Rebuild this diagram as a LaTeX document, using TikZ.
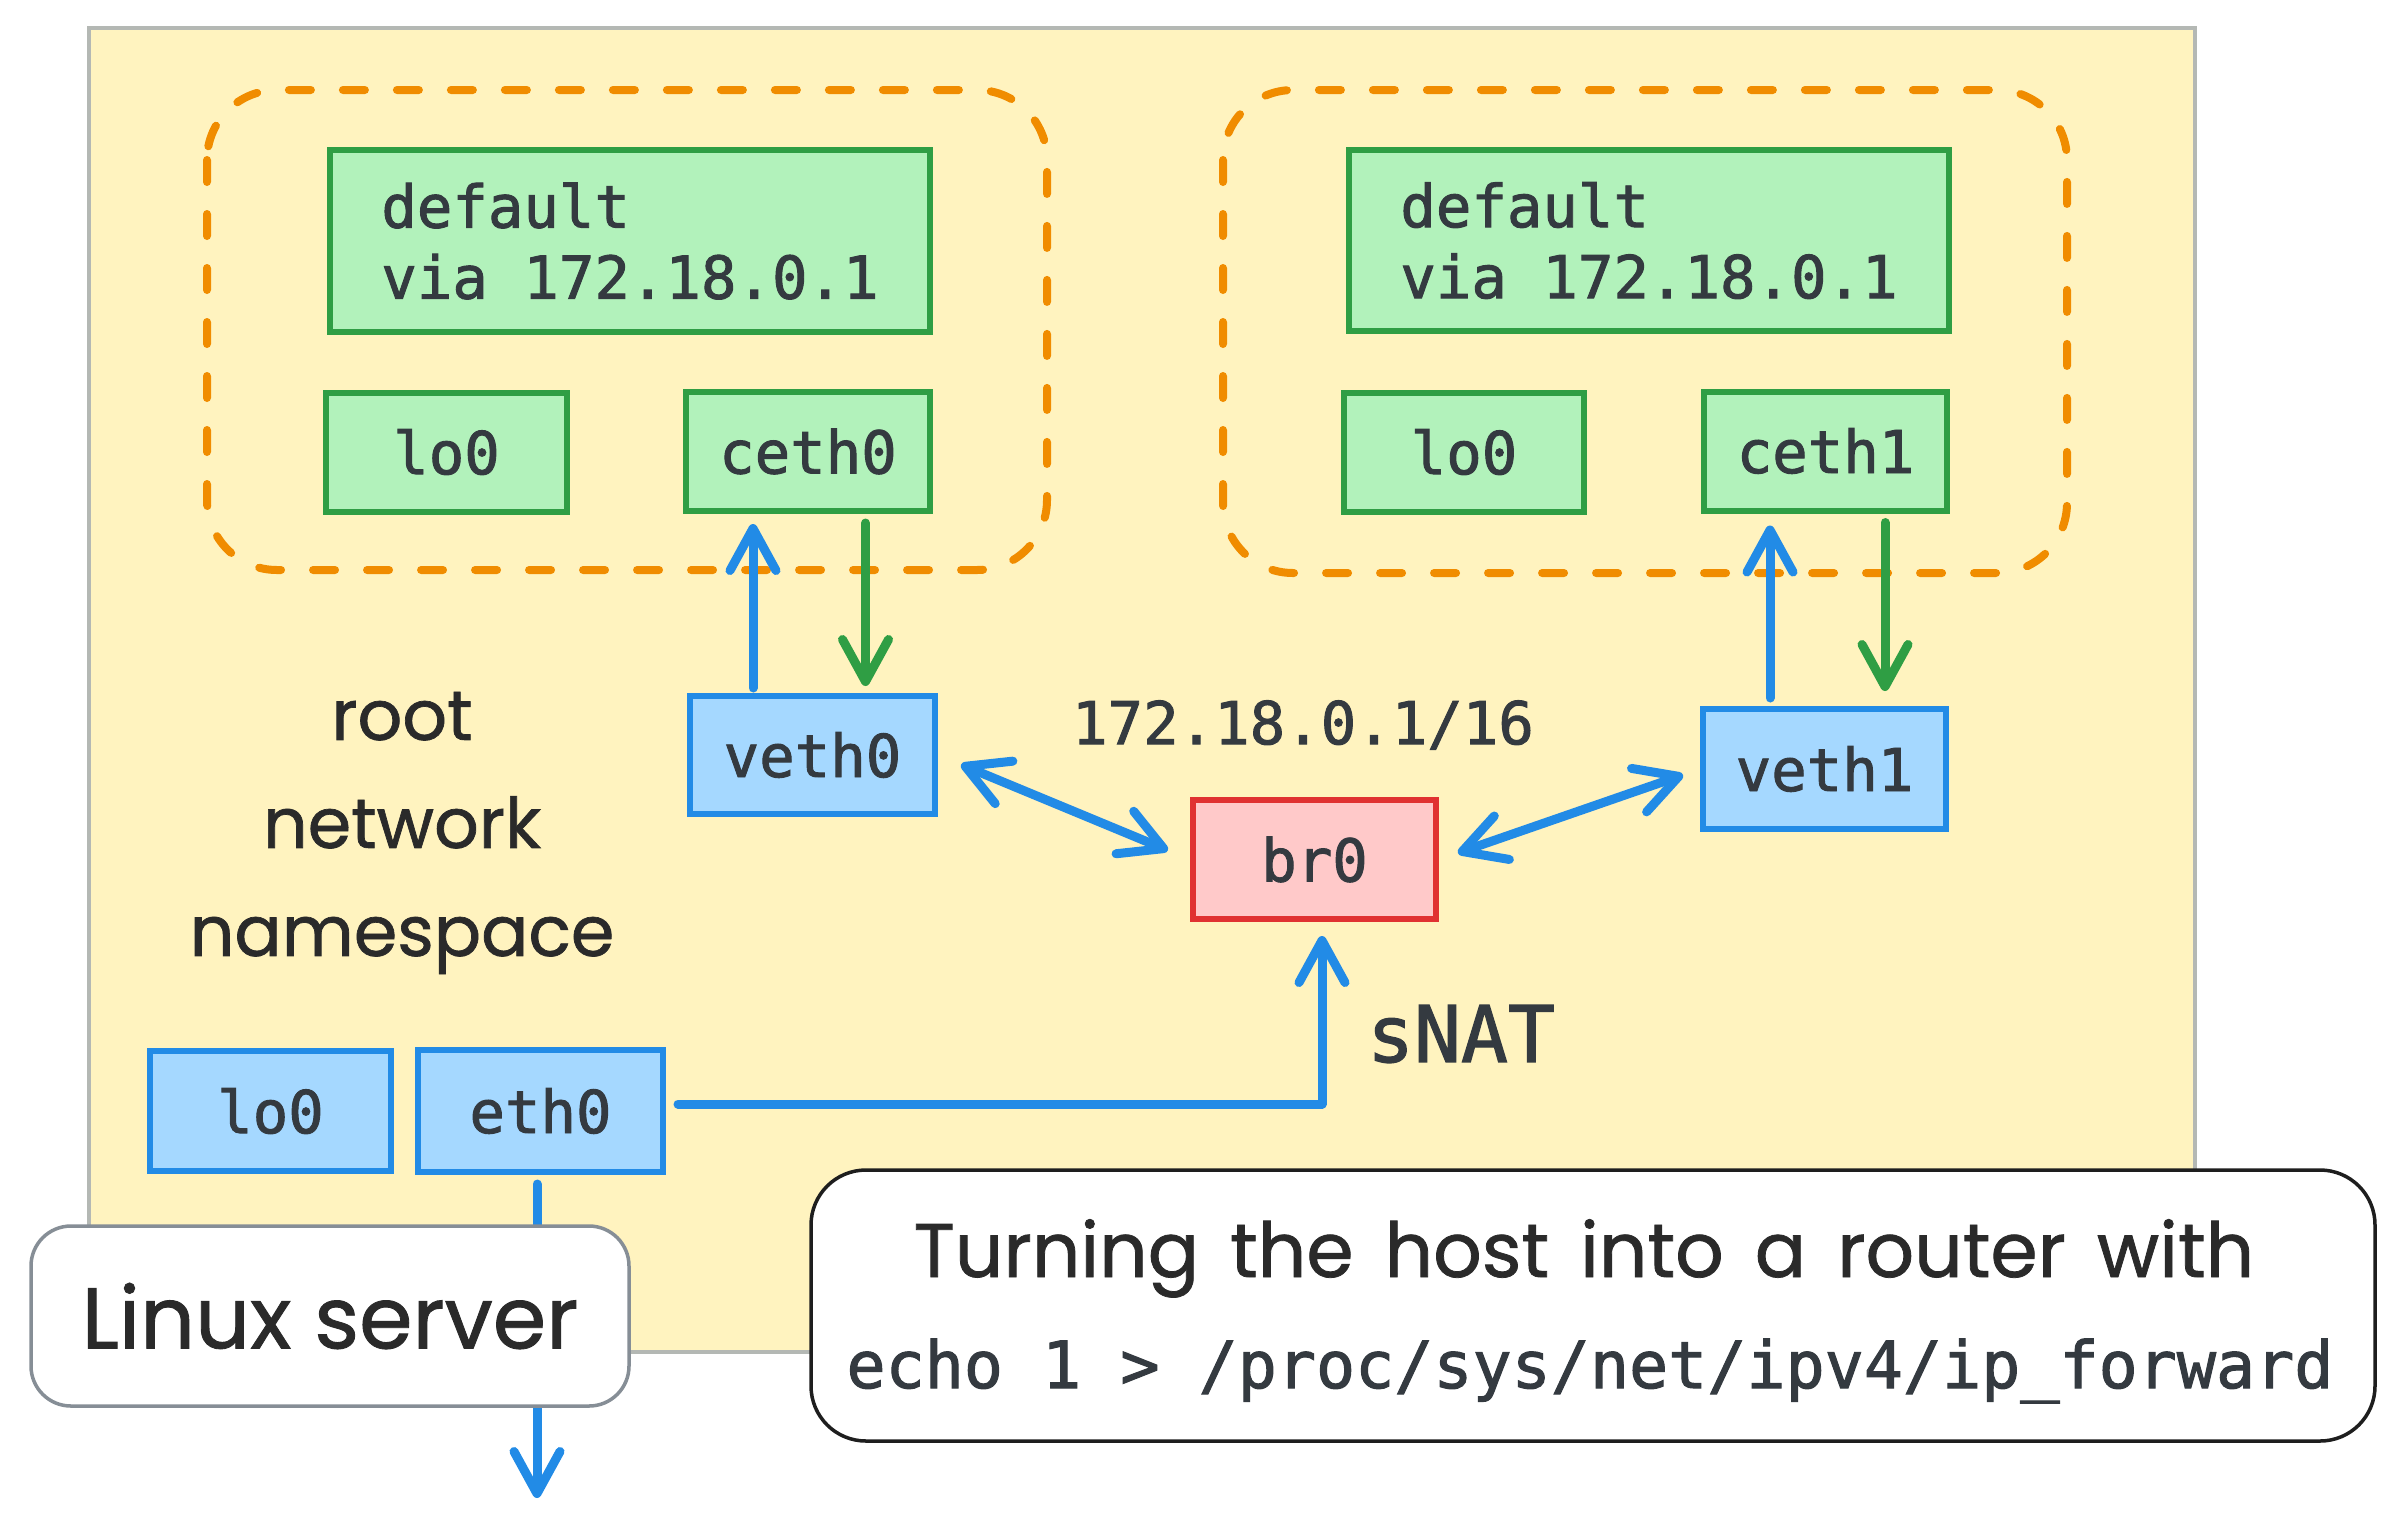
\documentclass[tikz,border=0pt]{standalone}
\usepackage{fontspec}
\newfontfamily\monof{DejaVu Sans Mono}[FakeBold=1.6]
\newfontfamily\handf{Poppins}[FakeBold=1]
\usetikzlibrary{arrows.meta,calc}
\definecolor{ybg}{HTML}{FFF3BF}
\definecolor{ygray}{HTML}{B4B8B4}
\definecolor{gfill}{HTML}{B2F2BB}
\definecolor{gstroke}{HTML}{2F9E44}
\definecolor{bfill}{HTML}{A5D8FF}
\definecolor{bstroke}{HTML}{228BE6}
\definecolor{rfill}{HTML}{FFC9C9}
\definecolor{rstroke}{HTML}{E03131}
\definecolor{orng}{HTML}{F08C00}
\definecolor{ink}{HTML}{343A40}
\definecolor{hink}{HTML}{2A2A2A}
\definecolor{srvgray}{HTML}{868E96}
\definecolor{notek}{HTML}{1E1E1E}
\tikzset{
  mono/.style={font=\monof\fontsize{59}{71}\selectfont, text=ink},
  ifbox/.style={mono, line width=6pt, inner sep=0pt, minimum width=243pt, minimum height=119pt},
  gbox/.style={ifbox, draw=gstroke, fill=gfill},
  bbox/.style={ifbox, draw=bstroke, fill=bfill},
  rbox/.style={ifbox, draw=rstroke, fill=rfill},
  nsbox/.style={draw=orng, line width=8pt, dash pattern=on 22pt off 32pt, line cap=round, rounded corners=70pt},
  hostbg/.style={fill=ybg, draw=ygray, line width=4.5pt},
  bluearr/.style={draw=bstroke, line width=9pt, line cap=round, line join=round, -{Straight Barb[round, length=42pt, width=46pt]}},
  greenarr/.style={draw=gstroke, line width=9pt, line cap=round, line join=round, -{Straight Barb[round, length=42pt, width=46pt]}},
  dblarr/.style={draw=bstroke, line width=9pt, line cap=round, {Straight Barb[round, length=42pt, width=46pt]}-{Straight Barb[round, length=42pt, width=46pt]}},
  hand/.style={font=\handf\fontsize{#1}{#1}\selectfont, text=hink},
}
\begin{document}
\begin{tikzpicture}[x=1pt,y=-1pt]
\useasboundingbox (0,0) rectangle (2405,1527);
\fill[white] (0,0) rectangle (2405,1527);
% host background
\draw[hostbg] (89,28) rectangle (2195,1352);
% namespaces
\draw[nsbox] (207,90) rectangle (1047,570);
\draw[nsbox] (1223,90) rectangle (2067,573);
% left namespace
\node[gbox, minimum width=600pt, minimum height=182pt, align=left] (def0) at (630,241) {default\\via 172.18.0.1};
\node[gbox, minimum width=241pt] (lo0a) at (446.5,452) {lo0};
\node[gbox, minimum width=244pt] (ceth0) at (808,451.5) {ceth0};
% right namespace
\node[gbox, minimum width=600pt, minimum height=181pt, align=left] (def1) at (1649,240.5) {default\\via 172.18.0.1};
\node[gbox, minimum width=240pt] (lo0b) at (1464,452) {lo0};
\node[gbox] (ceth1) at (1825.5,451) {ceth1};
% root namespace
\node[bbox, minimum width=245pt, minimum height=118pt] (veth0) at (812.5,755) {veth0};
\node[bbox, minimum height=120pt] (veth1) at (1824.5,769) {veth1};
\node[rbox] (br0) at (1314.5,859.5) {br0};
\node[bbox, minimum width=241pt, minimum height=120pt] (lo0c) at (270.5,1111) {lo0};
\node[bbox, minimum width=245pt, minimum height=122pt] (eth0) at (540.5,1111) {eth0};
\node[mono] (brip) at (1303,725) {172.18.0.1/16};
\node[font=\monof\fontsize{78}{90}\selectfont, text=ink] (snat) at (1461,1034) {sNAT};
\node[font=\handf\fontsize{70}{108}\selectfont, text=hink, align=center] (rootlbl) at (402,833) {root\\network\\namespace};
% veth pairs
\draw[bluearr, shorten <=5pt, shorten >=10pt] ([xshift=-59.5pt]veth0.north) -- ([xshift=-59.5pt]veth0.north |- ceth0.south);
\draw[greenarr, shorten <=9pt, shorten >=7pt] ([xshift=57.5pt]ceth0.south) -- ([xshift=57.5pt]ceth0.south |- veth0.north);
\draw[bluearr, shorten <=8pt, shorten >=12pt] ([xshift=-54.5pt]veth1.north) -- ([xshift=-54.5pt]veth1.north |- ceth1.south);
\draw[greenarr, shorten <=9pt, shorten >=15pt] ([xshift=59.5pt]ceth1.south) -- ([xshift=59.5pt]ceth1.south |- veth1.north);
% bridge links
\draw[dblarr, shorten <=25pt, shorten >=24pt] (veth0.east) -- (br0.west);
\draw[dblarr, shorten <=20pt, shorten >=18pt] (br0.east) -- (veth1.west);
% eth0 to br0 (sNAT)
\draw[bluearr, shorten >=14pt] ([xshift=12pt,yshift=7pt]eth0.east) -| ([xshift=7.5pt]br0.south);
% uplink
\coordinate (wan) at (537,1498);
\draw[bluearr, shorten <=9pt] ([xshift=-3.5pt]eth0.south) -- (wan);
% Linux server label
\node[draw=srvgray, fill=white, line width=3.5pt, rounded corners=40pt, minimum width=598pt, minimum height=180pt, hand=86] (linux) at (330,1316) {Linux server};
% note
\node[draw=notek, fill=white, line width=3.5pt, rounded corners=55pt, minimum width=1564pt, minimum height=271pt] (note) at (1593,1305.5) {};
\node[hand=76, anchor=base] (notel1) at (1584,1277) {\spaceskip=31pt Turning the host into a router with};
\node[font=\monof\fontsize{65}{78}\selectfont, text=ink, anchor=base] (notel2) at (1590,1388) {echo 1 > /proc/sys/net/ipv4/ip\_forward};
\end{tikzpicture}
\end{document}
